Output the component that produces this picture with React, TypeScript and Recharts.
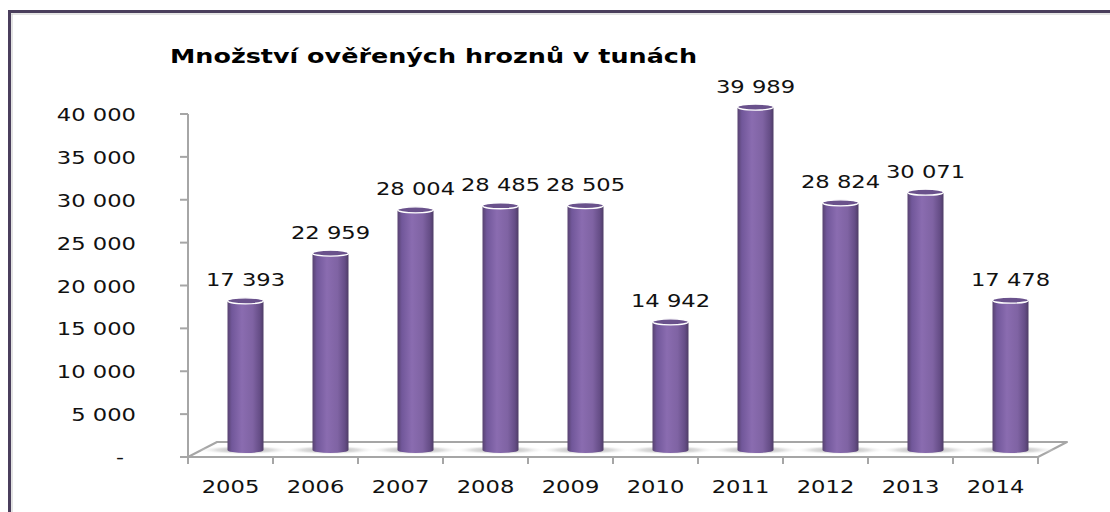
import React from 'react';
import { BarChart, Bar, XAxis, YAxis, LabelList, Customized } from 'recharts';

const years = ['2005', '2006', '2007', '2008', '2009', '2010', '2011', '2012', '2013', '2014'];
const tonnes = [17393, 22959, 28004, 28485, 28505, 14942, 39989, 28824, 30071, 17478];
const yTicks = [0, 5000, 10000, 15000, 20000, 25000, 30000, 35000, 40000];
const title = 'Množství ověřených hroznů v tunách';

const data = years.map((year, i) => ({ year, value: tonnes[i] }));

const W = 1110;
const H = 512;
const M_TOP = 114;
const M_RIGHT = 72;
const Y_W = 188;
const X_H = 55;
const PLOT_L = Y_W;
const PLOT_R = W - M_RIGHT;
const BASE = H - X_H;
const DX = 14.5; // 3D depth shift (cylinder center)
const DY = 7;
const FLOOR_DX = 29;
const FLOOR_DY = 15;

const FONT = '"DejaVu Sans", sans-serif';
const GRID = '#a6a6a6';

const fmt = (v: number) => (v === 0 ? '-' : String(v).replace(/\B(?=(\d{3})+(?!\d))/g, ' '));
const stretchLen = (s: string) => {
  let w = 0;
  for (const c of s) w += c === ' ' ? 7.2 : c === '-' ? 8 : 14.4;
  return w;
};

const StretchText = ({ x, y, text, anchor = 'middle', size = 18 }: any) => (
  <text
    x={x}
    y={y}
    textAnchor={anchor}
    fontFamily={FONT}
    fontSize={size}
    fill="#111"
    textLength={stretchLen(text)}
    lengthAdjust="spacingAndGlyphs"
  >
    {text}
  </text>
);

const Cylinder = (props: any) => {
  const { x, y, width, height } = props;
  if (width == null || height == null) return null;
  const r = width / 2;
  const cx = x + r + DX;
  const top = y - DY;
  const base = y + height - DY;
  const ry = 3;
  return (
    <g>
      <path
        d={`M${cx - r},${top} L${cx - r},${base} A${r},${ry} 0 0 0 ${cx + r},${base} L${cx + r},${top} Z`}
        fill="url(#cylGrad)"
      />
      <ellipse cx={cx} cy={top} rx={r} ry={ry} fill="#6a528c" stroke="#ffffff" strokeWidth={1.3} />
    </g>
  );
};

const ValueLabel = (props: any) => {
  const { x, y, width, value } = props;
  const cx = x + width / 2 + DX;
  return <StretchText x={cx} y={y - DY - 14.5} text={fmt(value)} />;
};

const YTick = (props: any) => {
  const { x, y, payload } = props;
  const v = payload.value;
  if (v === 0) return <StretchText x={x - 12} y={y + 6} text="-" anchor="end" />;
  return <StretchText x={x} y={y + 7} text={fmt(v)} anchor="end" />;
};

const XTick = (props: any) => {
  const { x, y, payload, index, visibleTicksCount } = props;
  const half = (PLOT_R - PLOT_L) / years.length / 2;
  return (
    <g>
      <line x1={x - half} y1={y} x2={x - half} y2={y + 7} stroke={GRID} strokeWidth={2} />
      {index === (visibleTicksCount ?? years.length) - 1 && (
        <line x1={x + half} y1={y} x2={x + half} y2={y + 7} stroke={GRID} strokeWidth={2} />
      )}
      <StretchText x={x} y={y + 36} text={payload.value} />
    </g>
  );
};

const Floor = () => {
  const pts = `${PLOT_L},${BASE} ${PLOT_R},${BASE} ${PLOT_R + FLOOR_DX},${BASE - FLOOR_DY} ${PLOT_L + FLOOR_DX},${BASE - FLOOR_DY}`;
  const band = (PLOT_R - PLOT_L) / years.length;
  return (
    <g>
      <defs>
        <linearGradient id="cylGrad" x1="0" y1="0" x2="1" y2="0">
          <stop offset="0%" stopColor="#574270" />
          <stop offset="12%" stopColor="#71579a" />
          <stop offset="40%" stopColor="#8a6cb0" />
          <stop offset="70%" stopColor="#7f63a3" />
          <stop offset="90%" stopColor="#654d86" />
          <stop offset="100%" stopColor="#4e3c66" />
        </linearGradient>
        <radialGradient id="shadowGrad" cx="0.5" cy="0.5" r="0.5">
          <stop offset="0%" stopColor="#9a9a9a" stopOpacity={0.9} />
          <stop offset="60%" stopColor="#c8c8c8" stopOpacity={0.6} />
          <stop offset="100%" stopColor="#ffffff" stopOpacity={0} />
        </radialGradient>
      </defs>
      <polygon points={pts} fill="#ffffff" stroke={GRID} strokeWidth={2} strokeLinejoin="round" />
      {years.map((yr, i) => (
        <ellipse
          key={yr}
          cx={PLOT_L + band * (i + 0.5) + DX}
          cy={BASE - DY}
          rx={band * 0.55}
          ry={4.5}
          fill="url(#shadowGrad)"
        />
      ))}
    </g>
  );
};

const Decor = () => (
  <g>
    <rect x={9.5} y={11.5} width={W + 20} height={H + 20} fill="none" stroke="#4a3e5c" strokeWidth={3} />
    <line x1={11} y1={14} x2={W} y2={14} stroke="#c8c8c8" strokeWidth={1} />
    <line x1={12} y1={14} x2={12} y2={H} stroke="#c8c8c8" strokeWidth={1} />
    <text
      x={170}
      y={63}
      fontFamily={FONT}
      fontWeight="bold"
      fontSize={20}
      fill="#000"
      textLength={527}
      lengthAdjust="spacingAndGlyphs"
    >
      {title}
    </text>
  </g>
);

export default function App() {
  return (
    <div style={{ position: 'absolute', left: 0, top: 0, width: W, height: H, background: '#fff' }}>
      <BarChart
        width={W}
        height={H}
        data={data}
        margin={{ top: M_TOP, right: M_RIGHT, bottom: 0, left: 0 }}
        barCategoryGap={0}
      >
        <Customized component={<Decor />} />
        <Customized component={<Floor />} />
        <XAxis
          dataKey="year"
          height={X_H}
          axisLine={{ stroke: GRID, strokeWidth: 2 }}
          tickLine={false}
          tickSize={0}
          tickMargin={0}
          tick={<XTick />}
          interval={0}
        />
        <YAxis
          width={Y_W}
          domain={[0, 40000]}
          ticks={yTicks}
          interval={0}
          axisLine={{ stroke: GRID, strokeWidth: 2 }}
          tickLine={{ stroke: GRID, strokeWidth: 2 }}
          tickSize={8}
          tickMargin={44}
          tick={<YTick />}
        />
        <Bar dataKey="value" barSize={36} shape={<Cylinder />} isAnimationActive={false}>
          <LabelList dataKey="value" content={<ValueLabel />} />
        </Bar>
      </BarChart>
    </div>
  );
}
